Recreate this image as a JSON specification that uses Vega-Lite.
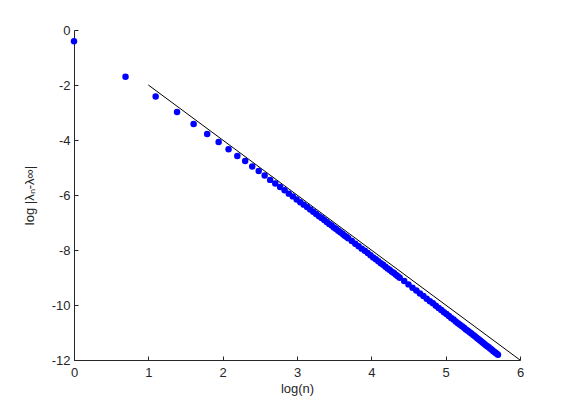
{
  "$schema": "https://vega.github.io/schema/vega-lite/v6.json",
  "width": 446,
  "height": 330,
  "autosize": {"type": "none"},
  "padding": {"left": 74, "top": 30, "right": 55, "bottom": 45},
  "background": "white",
  "config": {
    "view": {"stroke": null},
    "axis": {
      "grid": false,
      "domainColor": "#262626",
      "tickColor": "#262626",
      "labelColor": "#262626",
      "titleColor": "#262626",
      "labelFont": "Liberation Sans",
      "titleFont": "Liberation Sans",
      "labelFontSize": 13,
      "titleFontSize": 13,
      "titleFontWeight": "normal",
      "labelFlush": false,
      "labelOverlap": false,
      "tickSize": -4,
      "domainWidth": 1,
      "tickWidth": 1
    }
  },
  "datasets": {
    "pts": [
      {"x": 0, "y": -0.41},
      {"x": 0.6931, "y": -1.70},
      {"x": 1.0986, "y": -2.42},
      {"x": 1.3863, "y": -2.98},
      {"x": 1.6094, "y": -3.42},
      {"x": 1.7918, "y": -3.78},
      {"x": 1.9459, "y": -4.07},
      {"x": 2.0794, "y": -4.34},
      {"x": 2.1972, "y": -4.58},
      {"x": 2.3026, "y": -4.76},
      {"x": 2.3979, "y": -4.96},
      {"x": 2.4849, "y": -5.13},
      {"x": 2.5649, "y": -5.29},
      {"x": 2.6391, "y": -5.45},
      {"x": 2.7081, "y": -5.58},
      {"x": 2.7726, "y": -5.71},
      {"x": 2.8332, "y": -5.83},
      {"x": 2.8904, "y": -5.95},
      {"x": 2.9444, "y": -6.05},
      {"x": 2.9957, "y": -6.16},
      {"x": 3.0445, "y": -6.26},
      {"x": 3.0910, "y": -6.35},
      {"x": 3.1355, "y": -6.44},
      {"x": 3.1781, "y": -6.53},
      {"x": 3.2189, "y": -6.61},
      {"x": 3.2581, "y": -6.69},
      {"x": 3.2958, "y": -6.77},
      {"x": 3.3322, "y": -6.84},
      {"x": 3.3673, "y": -6.91},
      {"x": 3.4012, "y": -6.98},
      {"x": 3.4340, "y": -7.05},
      {"x": 3.4657, "y": -7.11},
      {"x": 3.4965, "y": -7.18},
      {"x": 3.5264, "y": -7.24},
      {"x": 3.5553, "y": -7.30},
      {"x": 3.5835, "y": -7.35},
      {"x": 3.6109, "y": -7.41},
      {"x": 3.6376, "y": -7.47},
      {"x": 3.6636, "y": -7.52},
      {"x": 3.6889, "y": -7.57},
      {"x": 3.7377, "y": -7.67},
      {"x": 3.7842, "y": -7.77},
      {"x": 3.8286, "y": -7.86},
      {"x": 3.8712, "y": -7.95},
      {"x": 3.9120, "y": -8.03},
      {"x": 3.9512, "y": -8.11},
      {"x": 3.9890, "y": -8.19},
      {"x": 4.0254, "y": -8.27},
      {"x": 4.0604, "y": -8.34},
      {"x": 4.0943, "y": -8.41},
      {"x": 4.1271, "y": -8.48},
      {"x": 4.1589, "y": -8.54},
      {"x": 4.1897, "y": -8.61},
      {"x": 4.2195, "y": -8.67},
      {"x": 4.2485, "y": -8.73},
      {"x": 4.2767, "y": -8.79},
      {"x": 4.3041, "y": -8.84},
      {"x": 4.3307, "y": -8.90},
      {"x": 4.3567, "y": -8.95},
      {"x": 4.3820, "y": -9.01},
      {"x": 4.4427, "y": -9.13},
      {"x": 4.4998, "y": -9.25},
      {"x": 4.5539, "y": -9.37},
      {"x": 4.6052, "y": -9.47},
      {"x": 4.6540, "y": -9.58},
      {"x": 4.7005, "y": -9.67},
      {"x": 4.7449, "y": -9.77},
      {"x": 4.7875, "y": -9.86},
      {"x": 4.8283, "y": -9.94},
      {"x": 4.8675, "y": -10.03},
      {"x": 4.9053, "y": -10.11},
      {"x": 4.9416, "y": -10.18},
      {"x": 4.9767, "y": -10.26},
      {"x": 5.0106, "y": -10.33},
      {"x": 5.0434, "y": -10.40},
      {"x": 5.0752, "y": -10.47},
      {"x": 5.1059, "y": -10.53},
      {"x": 5.1358, "y": -10.60},
      {"x": 5.1648, "y": -10.66},
      {"x": 5.1930, "y": -10.72},
      {"x": 5.2204, "y": -10.77},
      {"x": 5.2470, "y": -10.83},
      {"x": 5.2730, "y": -10.89},
      {"x": 5.2983, "y": -10.94},
      {"x": 5.3230, "y": -10.99},
      {"x": 5.3471, "y": -11.04},
      {"x": 5.3706, "y": -11.09},
      {"x": 5.3936, "y": -11.14},
      {"x": 5.4161, "y": -11.19},
      {"x": 5.4381, "y": -11.24},
      {"x": 5.4596, "y": -11.28},
      {"x": 5.4806, "y": -11.33},
      {"x": 5.5013, "y": -11.37},
      {"x": 5.5215, "y": -11.42},
      {"x": 5.5413, "y": -11.46},
      {"x": 5.5607, "y": -11.50},
      {"x": 5.5797, "y": -11.54},
      {"x": 5.5984, "y": -11.58},
      {"x": 5.6168, "y": -11.62},
      {"x": 5.6348, "y": -11.66},
      {"x": 5.6525, "y": -11.70},
      {"x": 5.6699, "y": -11.74},
      {"x": 5.6870, "y": -11.77},
      {"x": 5.7038, "y": -11.81}
    ],
    "ref": [
      {"x": 1, "y": -2},
      {"x": 6, "y": -12}
    ]
  },
  "layer": [
    {
      "data": {"name": "ref"},
      "mark": {"type": "line", "color": "black", "strokeWidth": 1},
      "encoding": {
        "x": {"field": "x", "type": "quantitative", "scale": {"domain": [0, 6], "nice": false},
              "axis": {"title": "log(n)", "values": [0, 1, 2, 3, 4, 5, 6], "labelExpr": "'' + datum.value", "labelPadding": 10, "titlePadding": 3}},
        "y": {"field": "y", "type": "quantitative", "scale": {"domain": [-12, 0], "nice": false},
              "axis": {"title": "log |λₙ-λ∞|", "values": [0, -2, -4, -6, -8, -10, -12], "labelExpr": "'' + datum.value", "labelPadding": 8, "titlePadding": 15}}
      }
    },
    {
      "data": {"name": "pts"},
      "mark": {"type": "circle", "color": "#0000ff", "opacity": 1, "size": 42},
      "encoding": {
        "x": {"field": "x", "type": "quantitative"},
        "y": {"field": "y", "type": "quantitative"}
      }
    }
  ]
}
